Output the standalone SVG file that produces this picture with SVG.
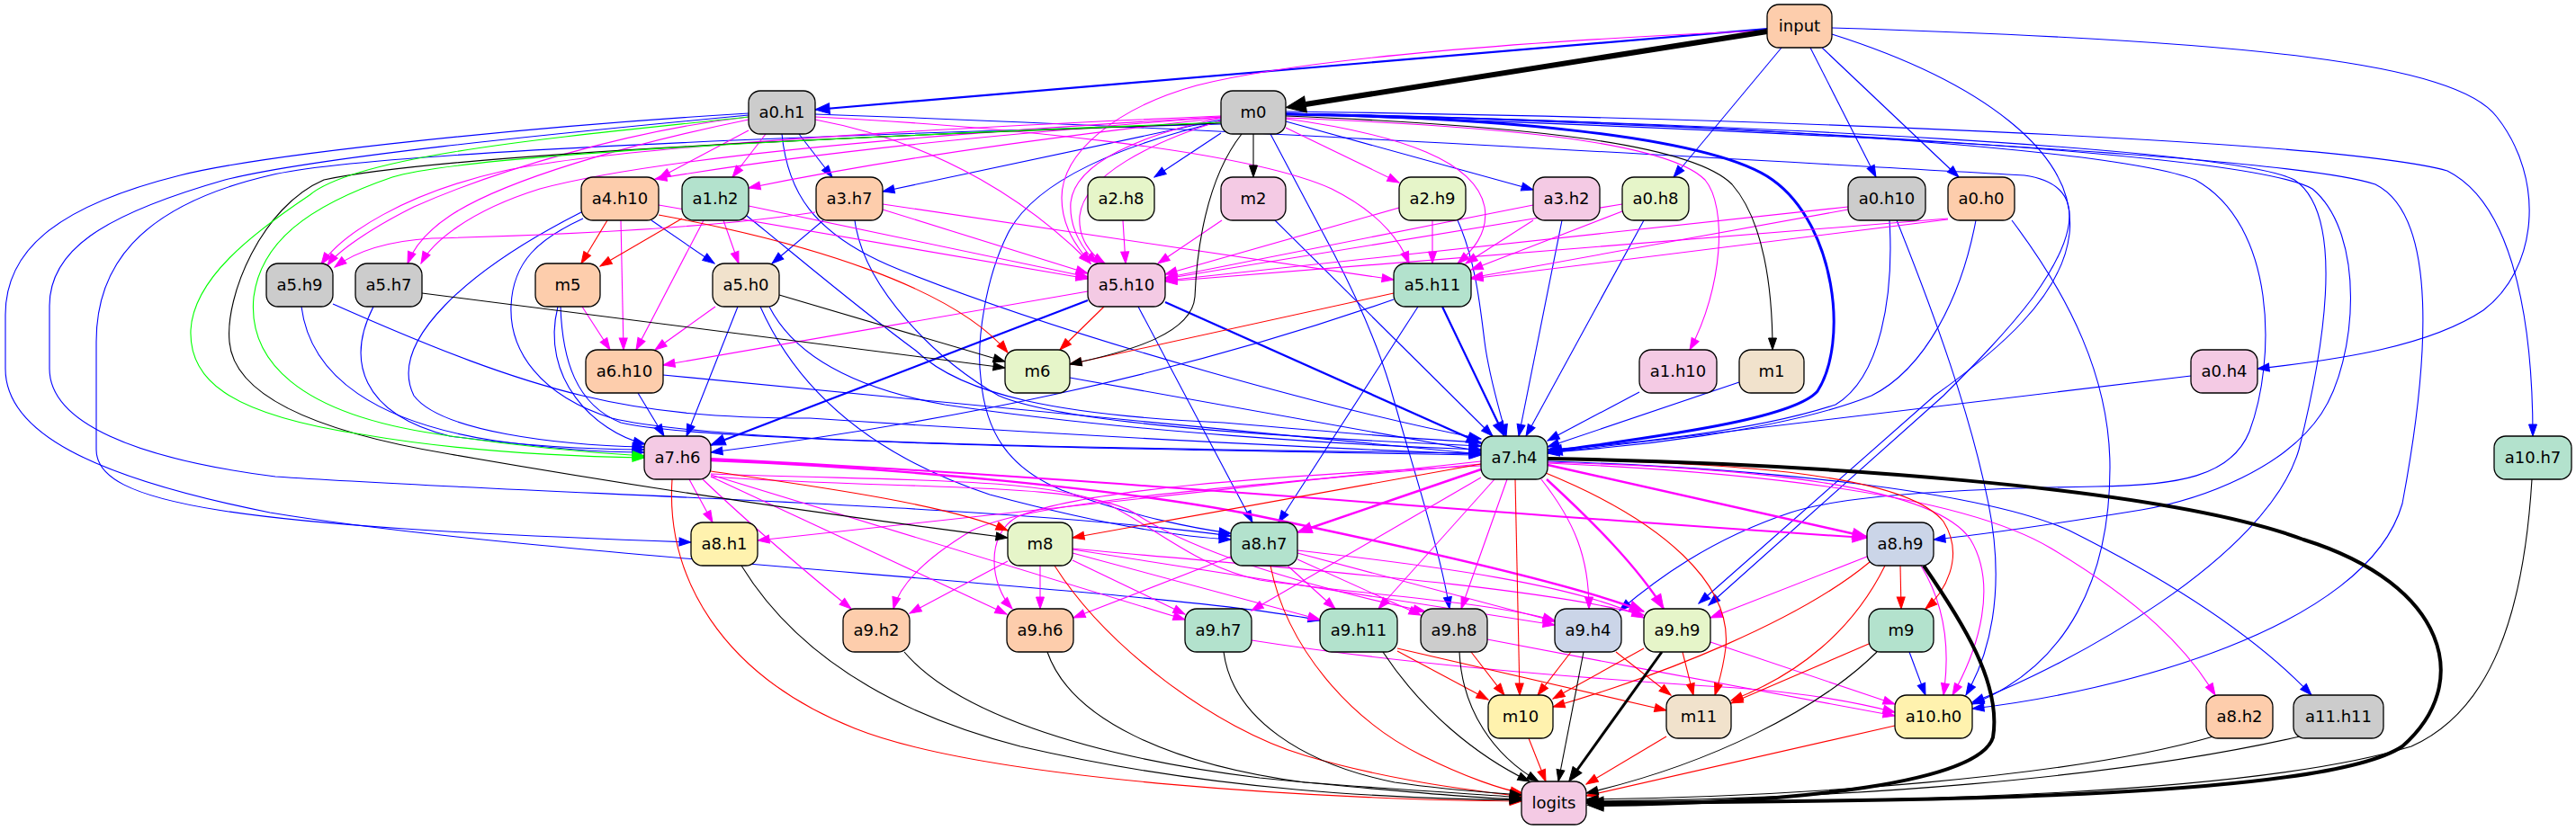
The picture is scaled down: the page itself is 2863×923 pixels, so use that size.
<svg xmlns="http://www.w3.org/2000/svg" width="2863" height="923" viewBox="0 0 2863 923">
<defs>
<style>
.n rect{stroke:#000;stroke-width:1.3px}
.n text{font-family:"DejaVu Sans","Liberation Sans",sans-serif;font-size:18px;text-anchor:middle;fill:#000}
.c1{fill:#b3e2cd}.c2{fill:#fdcdac}.c3{fill:#cbd5e8}.c4{fill:#f4cae4}.c5{fill:#e6f5c9}.c6{fill:#fff2ae}.c7{fill:#f1e2cc}.c8{fill:#cccccc}
.e path{fill:none;stroke-width:1.1px}
.b{stroke:#00f;marker-end:url(#ab)}
.m{stroke:#f0f;marker-end:url(#am)}
.r{stroke:#f00;marker-end:url(#ar)}
.k{stroke:#000;marker-end:url(#ak)}
.g{stroke:#0f0;marker-end:url(#ag)}
.e .bT{stroke-width:2.2px;marker-end:url(#abL)}
.e .bT3{stroke-width:3px;marker-end:url(#abL)}
.e .mT{stroke-width:2.4px;marker-end:url(#amL)}
.e .kX{stroke:#000;stroke-width:6px;marker-end:url(#akX)}
.e .kB{stroke:#000;stroke-width:4px;marker-end:url(#akB)}
.e .kM{stroke:#000;stroke-width:3px;marker-end:url(#akM)}
</style>
<marker id="ab" viewBox="-15 -6 16 12" refX="0" refY="0" markerWidth="16" markerHeight="12" markerUnits="userSpaceOnUse" orient="auto"><path d="M-13,-4.5L0,0L-13,4.5z" fill="#00f" stroke="#00f" stroke-width="1"/></marker>
<marker id="am" viewBox="-15 -6 16 12" refX="0" refY="0" markerWidth="16" markerHeight="12" markerUnits="userSpaceOnUse" orient="auto"><path d="M-13,-4.5L0,0L-13,4.5z" fill="#f0f" stroke="#f0f" stroke-width="1"/></marker>
<marker id="ar" viewBox="-15 -6 16 12" refX="0" refY="0" markerWidth="16" markerHeight="12" markerUnits="userSpaceOnUse" orient="auto"><path d="M-13,-4.5L0,0L-13,4.5z" fill="#f00" stroke="#f00" stroke-width="1"/></marker>
<marker id="ak" viewBox="-15 -6 16 12" refX="0" refY="0" markerWidth="16" markerHeight="12" markerUnits="userSpaceOnUse" orient="auto"><path d="M-13,-4.5L0,0L-13,4.5z" fill="#000" stroke="#000" stroke-width="1"/></marker>
<marker id="ag" viewBox="-15 -6 16 12" refX="0" refY="0" markerWidth="16" markerHeight="12" markerUnits="userSpaceOnUse" orient="auto"><path d="M-13,-4.5L0,0L-13,4.5z" fill="#0f0" stroke="#0f0" stroke-width="1"/></marker>
<marker id="abL" viewBox="-18 -8 19 16" refX="0" refY="0" markerWidth="19" markerHeight="16" markerUnits="userSpaceOnUse" orient="auto"><path d="M-16,-6L0,0L-16,6z" fill="#00f" stroke="#00f" stroke-width="1"/></marker>
<marker id="amL" viewBox="-18 -8 19 16" refX="0" refY="0" markerWidth="19" markerHeight="16" markerUnits="userSpaceOnUse" orient="auto"><path d="M-16,-6L0,0L-16,6z" fill="#f0f" stroke="#f0f" stroke-width="1"/></marker>
<marker id="akX" viewBox="-1 -10 24 20" refX="0" refY="0" markerWidth="24" markerHeight="20" markerUnits="userSpaceOnUse" orient="auto"><path d="M0,-9L22,0L0,9z" fill="#000" stroke="#000" stroke-width="1"/></marker>
<marker id="akB" viewBox="-1 -8 20 16" refX="0" refY="0" markerWidth="20" markerHeight="16" markerUnits="userSpaceOnUse" orient="auto"><path d="M0,-7L18,0L0,7z" fill="#000" stroke="#000" stroke-width="1"/></marker>
<marker id="akM" viewBox="-1 -7 18 14" refX="0" refY="0" markerWidth="18" markerHeight="14" markerUnits="userSpaceOnUse" orient="auto"><path d="M0,-6L16,0L0,6z" fill="#000" stroke="#000" stroke-width="1"/></marker>
</defs>
<rect width="2863" height="923" fill="#fff"/>
<g id="edges" class="e">
<!-- blue -->
<path class="b" d="M1980,53 L1860,197"/>
<path class="b" d="M2012,53 L2085,197"/>
<path class="b" d="M2025,53 L2177,197"/>
<path class="b" d="M2036,31 C2500,45 2730,70 2775,130 C2830,200 2820,300 2760,345 C2700,385 2600,400 2509,410"/>
<path class="b" d="M2036,38 C2200,90 2310,170 2300,260 C2292,330 2220,390 2150,440 L1888,671"/>
<path class="b" d="M1357,148 L1283,197"/>
<path class="b" d="M1357,133 L981,213"/>
<path class="b" d="M1429,135 L1704,211"/>
<path class="b" d="M1429,124 C1900,130 2600,155 2720,190 C2800,230 2815,380 2815,485"/>
<path class="b" d="M1429,126 C1950,138 2480,165 2550,200 C2610,240 2580,400 2555,500 C2520,620 2300,740 2192,781"/>
<path class="b" d="M1429,127 C2000,145 2550,175 2640,205 C2710,240 2700,400 2670,560 C2630,700 2350,770 2192,788"/>
<path class="b" d="M1429,126 C1950,140 2500,170 2570,210 C2630,260 2620,400 2580,460 C2540,520 2450,555 2380,567 C2300,580 2200,595 2149,600"/>
<path class="b" d="M1429,126 C1900,135 2350,165 2440,200 C2530,250 2530,400 2500,480 C2480,530 2420,540 2330,541 C2200,543 2050,550 1990,570 C1900,600 1840,645 1800,679"/>
<path class="b" d="M1412,149 L1483,283 C1510,335 1530,380 1545,430 C1570,520 1600,610 1611,677"/>
<path class="b" d="M1357,135 C1250,160 1150,200 1120,260 C1095,310 1085,380 1090,420 C1095,480 1120,520 1180,545 C1260,575 1330,588 1368,593"/>
<path class="b" d="M1357,138 C900,150 400,170 300,195 C150,230 107,300 107,380 L107,500 C107,560 250,585 768,603"/>
<path class="b" d="M888,149 L925,197"/>
<path class="b" d="M906,127 C1300,140 1800,170 2250,195 C2320,205 2310,260 2260,330 C2230,370 2190,410 2160,440 L1899,673"/>
<path class="b" d="M832,126 C600,140 300,170 200,195 C60,230 6,280 6,350 L6,410 C6,480 100,530 300,570 C600,620 1300,655 1467,690"/>
<path class="b" d="M832,128 C600,150 350,175 250,200 C110,240 55,280 55,340 L55,410 C55,470 150,510 306,530 C600,550 1100,560 1368,596"/>
<path class="b" d="M869,149 C875,210 900,260 1000,300 C1200,380 1500,460 1646,488"/>
<path class="b" d="M724,245 L794,293"/>
<path class="b" d="M646,236 C520,300 430,380 460,440 C490,480 620,495 716,497"/>
<path class="b" d="M648,243 C600,265 570,290 568,340 C566,390 600,440 680,465 C800,495 1300,500 1646,506"/>
<path class="b" d="M830,240 C880,280 950,340 1018,390 C1070,440 1180,462 1360,470 C1500,482 1600,490 1646,492"/>
<path class="b" d="M915,245 L858,293"/>
<path class="b" d="M950,245 C960,320 1040,400 1110,440 C1180,470 1400,485 1646,496"/>
<path class="b" d="M1417,245 L1659,485"/>
<path class="b" d="M1620,245 C1640,290 1645,340 1650,380 C1655,420 1668,460 1674,485"/>
<path class="b" d="M1736,245 L1688,485"/>
<path class="b" d="M1827,245 L1696,485"/>
<path class="b" d="M2100,245 C2105,330 2090,420 2040,450 C1950,480 1800,495 1720,500"/>
<path class="b" d="M2196,245 C2180,330 2140,410 2080,440 C1980,480 1800,498 1720,503"/>
<path class="b" d="M2108,245 C2150,350 2190,460 2210,560 C2230,660 2210,730 2185,773"/>
<path class="b" d="M2236,245 C2300,330 2345,420 2345,520 C2345,640 2300,740 2192,783"/>
<path class="b" d="M335,341 C345,420 420,470 550,490 C620,500 680,503 716,503"/>
<path class="b" d="M370,338 C600,440 700,465 900,465 C1200,485 1500,500 1646,505"/>
<path class="b" d="M415,341 C385,400 400,460 500,485 C600,498 680,500 716,500"/>
<path class="b" d="M620,341 C600,420 660,480 717,494"/>
<path class="b" d="M623,341 C625,400 640,450 690,470 C780,492 1300,500 1646,504"/>
<path class="b" d="M820,341 L763,485"/>
<path class="b" d="M855,341 C880,390 940,430 1050,450 C1250,480 1500,495 1646,500"/>
<path class="b" d="M845,341 C880,420 950,500 1100,550 C1250,590 1330,598 1368,600"/>
<path class="b" d="M1265,341 L1392,581"/>
<path class="b" d="M1549,333 C1300,420 1050,470 790,503"/>
<path class="b" d="M1576,341 L1421,581"/>
<path class="b" d="M709,437 L738,485"/>
<path class="b" d="M737,417 L1646,505"/>
<path class="b" d="M1189,420 L1646,502"/>
<path class="b" d="M1822,436 L1720,490"/>
<path class="b" d="M1933,425 L1720,497"/>
<path class="b" d="M2435,418 L1720,504"/>
<path class="b" d="M1720,513 C1950,520 2200,545 2300,590 C2400,640 2500,700 2569,773"/>
<path class="b" d="M2122,725 L2140,773"/>
<path class="b bT" d="M1964,32 L906,122"/>
<path class="b bT" d="M1209,334 L790,495"/>
<path class="b bT" d="M1295,336 L1646,493"/>
<path class="b bT" d="M1603,341 L1672,485"/>
<path class="b bT3" d="M1429,127 C1650,130 1900,150 1970,200 C2040,250 2055,380 2020,435 C1990,470 1800,490 1720,503"/>
<!-- magenta -->
<path class="m" d="M1964,34 C1700,45 1450,65 1330,95 C1240,120 1180,170 1180,220 C1180,255 1200,278 1212,293"/>
<path class="m" d="M1357,131 C1100,160 950,185 832,209"/>
<path class="m" d="M1357,130 C1100,150 900,170 728,199"/>
<path class="m" d="M1429,142 L1555,203"/>
<path class="m" d="M1357,129 C1100,140 700,160 560,190 C450,215 380,260 357,294"/>
<path class="m" d="M1357,130 C1100,145 750,170 600,210 C520,235 480,270 468,293"/>
<path class="m" d="M1357,131 C1270,150 1195,180 1190,225 C1188,255 1205,280 1220,293"/>
<path class="m" d="M1357,134 C1280,158 1205,195 1200,240 C1198,265 1212,283 1228,293"/>
<path class="m" d="M1429,132 C1560,150 1640,180 1650,230 C1655,260 1635,280 1620,293"/>
<path class="m" d="M1429,131 C1650,140 1850,155 1895,200 C1920,230 1915,320 1878,389"/>
<path class="m" d="M832,145 L732,198"/>
<path class="m" d="M851,149 L814,197"/>
<path class="m" d="M832,130 C700,145 550,190 460,230 C410,255 375,280 364,295"/>
<path class="m" d="M832,133 C700,160 560,200 500,240 C470,260 458,280 453,293"/>
<path class="m" d="M906,133 C1050,160 1150,230 1212,293"/>
<path class="m" d="M906,130 C1100,140 1380,165 1480,210 C1530,235 1555,265 1566,293"/>
<path class="m" d="M690,245 L693,389"/>
<path class="m" d="M732,228 L1209,310"/>
<path class="m" d="M804,245 L821,293"/>
<path class="m" d="M782,245 L707,389"/>
<path class="m" d="M832,229 L1209,308"/>
<path class="m" d="M906,236 C780,255 600,262 480,265 C430,268 395,280 372,297"/>
<path class="m" d="M981,233 L1209,304"/>
<path class="m" d="M981,227 L1549,311"/>
<path class="m" d="M1248,245 L1251,293"/>
<path class="m" d="M1358,245 L1287,293"/>
<path class="m" d="M1555,231 L1295,305"/>
<path class="m" d="M1592,245 L1592,293"/>
<path class="m" d="M1704,228 L1295,309"/>
<path class="m" d="M1704,245 L1629,293"/>
<path class="m" d="M1803,227 L1295,310"/>
<path class="m" d="M1803,235 L1635,300"/>
<path class="m" d="M2054,230 L1295,312"/>
<path class="m" d="M2054,233 L1635,309"/>
<path class="m" d="M2165,243 L1295,313"/>
<path class="m" d="M2165,244 L1635,310"/>
<path class="m" d="M647,341 L678,389"/>
<path class="m" d="M795,341 L728,389"/>
<path class="m" d="M1209,324 L737,406"/>
<path class="m" d="M766,533 L792,581"/>
<path class="m" d="M781,533 C830,580 900,640 946,677"/>
<path class="m" d="M790,530 L1119,683"/>
<path class="m" d="M790,528 L1317,689"/>
<path class="m" d="M790,530 C1000,545 1200,535 1260,570 C1320,610 1440,650 1584,680"/>
<path class="m" d="M790,527 C1000,535 1150,530 1230,560 C1290,590 1330,630 1400,645 C1500,660 1650,668 1728,690"/>
<path class="m" d="M1646,513 L842,601"/>
<path class="m" d="M1646,516 C1400,540 1150,555 1080,590 C1030,620 1000,650 993,677"/>
<path class="m" d="M1646,518 C1400,530 1200,545 1130,575 C1095,595 1100,650 1125,677"/>
<path class="m" d="M1646,531 L1391,679"/>
<path class="m" d="M1661,533 L1532,677"/>
<path class="m" d="M1675,533 L1624,677"/>
<path class="m" d="M1713,533 C1750,580 1766,620 1766,677"/>
<path class="m" d="M1720,514 C1950,520 2150,540 2190,600 C2220,650 2200,720 2170,773"/>
<path class="m" d="M1720,515 C1950,525 2180,550 2280,610 C2380,670 2430,720 2462,773"/>
<path class="m" d="M1120,624 L1011,682"/>
<path class="m" d="M1156,629 L1156,677"/>
<path class="m" d="M1192,623 L1317,683"/>
<path class="m" d="M1192,615 L1467,689"/>
<path class="m" d="M1192,611 L1728,695"/>
<path class="m" d="M1192,610 C1400,630 1700,650 1827,684"/>
<path class="m" d="M1368,619 L1193,687"/>
<path class="m" d="M1431,629 L1484,677"/>
<path class="m" d="M1442,622 L1579,684"/>
<path class="m" d="M1442,615 L1728,691"/>
<path class="m" d="M1442,612 C1600,630 1750,650 1827,687"/>
<path class="m" d="M2075,619 L1901,687"/>
<path class="m" d="M2135,629 C2160,670 2168,720 2160,773"/>
<path class="m" d="M1391,712 C1600,745 1850,760 1930,765 C2000,770 2060,780 2106,792"/>
<path class="m" d="M1653,711 C1800,740 2000,775 2106,796"/>
<path class="m" d="M1901,714 L2106,783"/>
<path class="m mT" d="M1646,522 L1442,592"/>
<path class="m mT" d="M1719,533 C1770,580 1820,630 1849,677"/>
<path class="m mT" d="M1720,517 L2075,597"/>
<path class="m mT" d="M790,512 C1000,520 1250,545 1380,570 C1550,605 1750,650 1827,680"/>
<path class="m mT" style="stroke-width:2px" d="M790,510 C1200,530 1700,575 2075,598"/>
<!-- red -->
<path class="r" d="M675,245 L646,293"/>
<path class="r" d="M758,243 L667,296"/>
<path class="r" d="M732,239 C900,270 1060,320 1120,392"/>
<path class="r" d="M1227,341 L1178,389"/>
<path class="r" d="M1549,326 L1189,405"/>
<path class="r" d="M790,524 C900,540 1050,560 1120,590"/>
<path class="r" d="M747,533 C740,640 800,750 950,810 C1100,870 1500,890 1691,891"/>
<path class="r" d="M1646,516 L1192,598"/>
<path class="r" d="M1684,533 L1689,773"/>
<path class="r" d="M1718,526 C1850,580 1925,650 1918,720 C1915,745 1910,760 1906,773"/>
<path class="r" d="M1720,511 C1950,515 2120,530 2160,580 C2185,620 2160,660 2140,677"/>
<path class="r" d="M1172,629 C1230,720 1350,810 1450,840 C1550,870 1650,880 1691,886"/>
<path class="r" d="M1412,629 C1430,720 1500,800 1580,840 C1630,865 1670,878 1692,882"/>
<path class="r" d="M2112,629 L2113,677"/>
<path class="r" d="M2078,625 C2000,690 1850,750 1726,786"/>
<path class="r" d="M2095,629 C2060,700 2000,750 1924,779"/>
<path class="r" d="M1553,724 L1654,778"/>
<path class="r" d="M1553,721 L1852,790"/>
<path class="r" d="M1635,725 L1672,773"/>
<path class="r" d="M1746,725 L1709,773"/>
<path class="r" d="M1796,725 L1857,773"/>
<path class="r" d="M1827,721 L1726,777"/>
<path class="r" d="M1870,725 L1882,773"/>
<path class="r" d="M2077,716 L1924,782"/>
<path class="r" d="M1699,821 L1718,869"/>
<path class="r" d="M1852,819 L1763,872"/>
<path class="r" d="M2106,807 L1763,885"/>
<!-- black -->
<path class="k" d="M1393,149 L1393,197"/>
<path class="k" d="M1429,129 C1700,140 1880,160 1925,205 C1960,245 1970,320 1970,389"/>
<path class="k" d="M1380,149 C1340,200 1330,280 1328,330 C1325,370 1260,390 1189,405"/>
<path class="k" d="M1357,137 C1000,150 500,170 360,200 C290,230 250,330 255,380 C260,440 350,480 500,505 C700,540 900,570 1120,598"/>
<path class="k" d="M469,326 L1117,409"/>
<path class="k" d="M866,328 L1117,402"/>
<path class="k" d="M824,629 C880,720 980,790 1134,830 C1350,880 1550,888 1691,890"/>
<path class="k" d="M1005,725 C1060,790 1200,840 1400,865 C1550,880 1650,888 1691,889"/>
<path class="k" d="M1164,725 C1190,800 1300,850 1450,870 C1580,880 1660,884 1691,887"/>
<path class="k" d="M1360,725 C1370,800 1450,850 1550,870 C1620,880 1670,882 1691,884"/>
<path class="k" d="M1537,725 C1580,790 1640,840 1700,869"/>
<path class="k" d="M1622,725 C1625,790 1660,840 1710,869"/>
<path class="k" d="M1760,725 L1732,869"/>
<path class="k" d="M2086,725 C2020,790 1900,850 1763,882"/>
<path class="k" d="M2460,819 C2300,865 2000,886 1763,889"/>
<path class="k" d="M2556,819 C2350,866 2050,889 1763,891"/>
<path class="k" d="M2814,533 C2805,680 2770,790 2680,830 C2500,885 2100,892 1763,893"/>
<path class="kX" d="M1964,35 L1451,116"/>
<path class="kB" d="M1720,510 C2000,515 2400,540 2560,600 C2720,650 2750,760 2670,830 C2580,890 2100,890 1782,893"/>
<path class="kB" d="M2138,629 C2180,690 2225,760 2215,820 C2200,870 2000,893 1782,895"/>
<path class="kM" d="M1847,725 L1753,856"/>
<!-- green -->
<path class="g" d="M832,130 C650,150 400,170 344,217 C280,260 215,310 212,367 C210,420 250,460 402,483 C500,500 600,507 716,509"/>
<path class="g" d="M1357,136 C1000,150 520,170 436,197 C340,230 290,270 282,330 C275,400 330,460 488,483 C580,497 650,503 716,507"/>
</g>
<g id="nodes">
<g id="node-input" class="n"><rect class="c2" x="1964" y="5" width="72" height="48" rx="13"/><text x="2000" y="35">input</text></g>
<g id="node-m0" class="n"><rect class="c8" x="1357" y="101" width="72" height="48" rx="13"/><text x="1393" y="131">m0</text></g>
<g id="node-a0.h1" class="n"><rect class="c8" x="832" y="101" width="74" height="48" rx="13"/><text x="869" y="131">a0.h1</text></g>
<g id="node-a4.h10" class="n"><rect class="c2" x="646" y="197" width="86" height="48" rx="13"/><text x="689" y="227">a4.h10</text></g>
<g id="node-a1.h2" class="n"><rect class="c1" x="758" y="197" width="74" height="48" rx="13"/><text x="795" y="227">a1.h2</text></g>
<g id="node-a3.h7" class="n"><rect class="c2" x="907" y="197" width="74" height="48" rx="13"/><text x="944" y="227">a3.h7</text></g>
<g id="node-a2.h8" class="n"><rect class="c5" x="1209" y="197" width="74" height="48" rx="13"/><text x="1246" y="227">a2.h8</text></g>
<g id="node-m2" class="n"><rect class="c4" x="1357" y="197" width="72" height="48" rx="13"/><text x="1393" y="227">m2</text></g>
<g id="node-a2.h9" class="n"><rect class="c5" x="1555" y="197" width="74" height="48" rx="13"/><text x="1592" y="227">a2.h9</text></g>
<g id="node-a3.h2" class="n"><rect class="c4" x="1704" y="197" width="74" height="48" rx="13"/><text x="1741" y="227">a3.h2</text></g>
<g id="node-a0.h8" class="n"><rect class="c5" x="1803" y="197" width="74" height="48" rx="13"/><text x="1840" y="227">a0.h8</text></g>
<g id="node-a0.h10" class="n"><rect class="c8" x="2054" y="197" width="86" height="48" rx="13"/><text x="2097" y="227">a0.h10</text></g>
<g id="node-a0.h0" class="n"><rect class="c2" x="2165" y="197" width="74" height="48" rx="13"/><text x="2202" y="227">a0.h0</text></g>
<g id="node-a5.h9" class="n"><rect class="c8" x="296" y="293" width="74" height="48" rx="13"/><text x="333" y="323">a5.h9</text></g>
<g id="node-a5.h7" class="n"><rect class="c8" x="395" y="293" width="74" height="48" rx="13"/><text x="432" y="323">a5.h7</text></g>
<g id="node-m5" class="n"><rect class="c2" x="595" y="293" width="72" height="48" rx="13"/><text x="631" y="323">m5</text></g>
<g id="node-a5.h0" class="n"><rect class="c7" x="792" y="293" width="74" height="48" rx="13"/><text x="829" y="323">a5.h0</text></g>
<g id="node-a5.h10" class="n"><rect class="c4" x="1209" y="293" width="86" height="48" rx="13"/><text x="1252" y="323">a5.h10</text></g>
<g id="node-a5.h11" class="n"><rect class="c1" x="1549" y="293" width="86" height="48" rx="13"/><text x="1592" y="323">a5.h11</text></g>
<g id="node-a6.h10" class="n"><rect class="c2" x="651" y="389" width="86" height="48" rx="13"/><text x="694" y="419">a6.h10</text></g>
<g id="node-m6" class="n"><rect class="c5" x="1117" y="389" width="72" height="48" rx="13"/><text x="1153" y="419">m6</text></g>
<g id="node-a1.h10" class="n"><rect class="c4" x="1822" y="389" width="86" height="48" rx="13"/><text x="1865" y="419">a1.h10</text></g>
<g id="node-m1" class="n"><rect class="c7" x="1933" y="389" width="72" height="48" rx="13"/><text x="1969" y="419">m1</text></g>
<g id="node-a0.h4" class="n"><rect class="c4" x="2435" y="389" width="74" height="48" rx="13"/><text x="2472" y="419">a0.h4</text></g>
<g id="node-a7.h6" class="n"><rect class="c4" x="716" y="485" width="74" height="48" rx="13"/><text x="753" y="515">a7.h6</text></g>
<g id="node-a7.h4" class="n"><rect class="c1" x="1646" y="485" width="74" height="48" rx="13"/><text x="1683" y="515">a7.h4</text></g>
<g id="node-a10.h7" class="n"><rect class="c1" x="2772" y="485" width="86" height="48" rx="13"/><text x="2815" y="515">a10.h7</text></g>
<g id="node-a8.h1" class="n"><rect class="c6" x="768" y="581" width="74" height="48" rx="13"/><text x="805" y="611">a8.h1</text></g>
<g id="node-m8" class="n"><rect class="c5" x="1120" y="581" width="72" height="48" rx="13"/><text x="1156" y="611">m8</text></g>
<g id="node-a8.h7" class="n"><rect class="c1" x="1368" y="581" width="74" height="48" rx="13"/><text x="1405" y="611">a8.h7</text></g>
<g id="node-a8.h9" class="n"><rect class="c3" x="2075" y="581" width="74" height="48" rx="13"/><text x="2112" y="611">a8.h9</text></g>
<g id="node-a9.h2" class="n"><rect class="c2" x="937" y="677" width="74" height="48" rx="13"/><text x="974" y="707">a9.h2</text></g>
<g id="node-a9.h6" class="n"><rect class="c2" x="1119" y="677" width="74" height="48" rx="13"/><text x="1156" y="707">a9.h6</text></g>
<g id="node-a9.h7" class="n"><rect class="c1" x="1317" y="677" width="74" height="48" rx="13"/><text x="1354" y="707">a9.h7</text></g>
<g id="node-a9.h11" class="n"><rect class="c1" x="1467" y="677" width="86" height="48" rx="13"/><text x="1510" y="707">a9.h11</text></g>
<g id="node-a9.h8" class="n"><rect class="c8" x="1579" y="677" width="74" height="48" rx="13"/><text x="1616" y="707">a9.h8</text></g>
<g id="node-a9.h4" class="n"><rect class="c3" x="1728" y="677" width="74" height="48" rx="13"/><text x="1765" y="707">a9.h4</text></g>
<g id="node-a9.h9" class="n"><rect class="c5" x="1827" y="677" width="74" height="48" rx="13"/><text x="1864" y="707">a9.h9</text></g>
<g id="node-m9" class="n"><rect class="c1" x="2077" y="677" width="72" height="48" rx="13"/><text x="2113" y="707">m9</text></g>
<g id="node-m10" class="n"><rect class="c6" x="1654" y="773" width="72" height="48" rx="13"/><text x="1690" y="803">m10</text></g>
<g id="node-m11" class="n"><rect class="c7" x="1852" y="773" width="72" height="48" rx="13"/><text x="1888" y="803">m11</text></g>
<g id="node-a10.h0" class="n"><rect class="c6" x="2106" y="773" width="86" height="48" rx="13"/><text x="2149" y="803">a10.h0</text></g>
<g id="node-a8.h2" class="n"><rect class="c2" x="2452" y="773" width="74" height="48" rx="13"/><text x="2489" y="803">a8.h2</text></g>
<g id="node-a11.h11" class="n"><rect class="c8" x="2549" y="773" width="100" height="48" rx="13"/><text x="2599" y="803">a11.h11</text></g>
<g id="node-logits" class="n"><rect class="c4" x="1691" y="869" width="72" height="48" rx="13"/><text x="1727" y="899">logits</text></g>
</g>
</svg>
